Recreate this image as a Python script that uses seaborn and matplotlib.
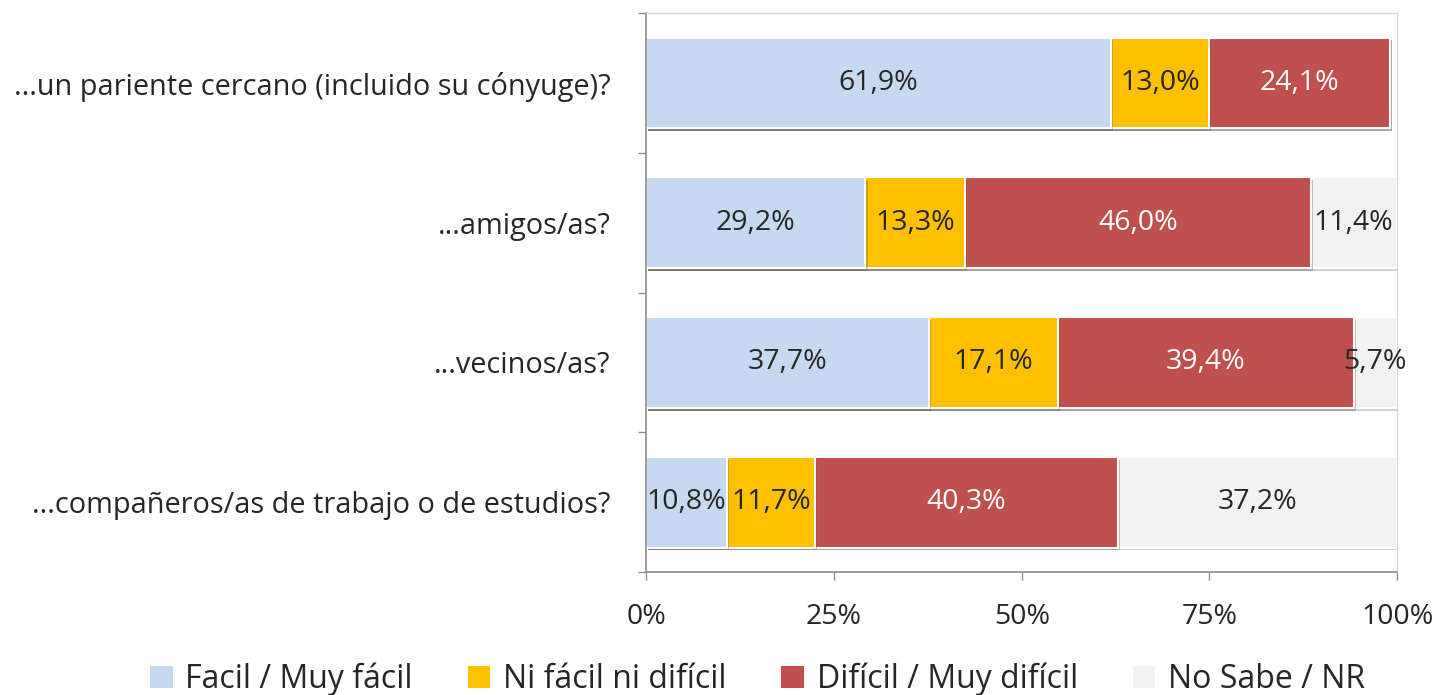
import numpy as np
import pandas as pd
import matplotlib.pyplot as plt
import matplotlib.patheffects as pe
import seaborn as sns
from matplotlib.patches import Patch

# Data
categories = [
    '...un pariente cercano (incluido su cónyuge)?',
    '...amigos/as?',
    '...vecinos/as?',
    '...compañeros/as de trabajo o de estudios?',
]
series_names = ['Facil / Muy fácil', 'Ni fácil ni difícil', 'Difícil / Muy difícil', 'No Sabe / NR']
facil = [61.9, 29.2, 37.7, 10.8]
ni_facil = [13.0, 13.3, 17.1, 11.7]
dificil = [24.1, 46.0, 39.4, 40.3]
no_sabe = [0.0, 11.4, 5.7, 37.2]
x_ticks = [0, 25, 50, 75, 100]

colors = ['#C6D9F1', '#FFC000', '#C0504D', '#F2F2F2']
text_colors = ['#262626', '#262626', '#FFFFFF', '#262626']

FONT = 'Open Sans'


def main():
    sns.set_style('white')
    plt.rcParams['font.family'] = [FONT, 'DejaVu Sans']

    values = np.array([facil, ni_facil, dificil, no_sabe])
    cum = values.cumsum(axis=0)

    fig = plt.figure(figsize=(14.39, 6.95), dpi=100)
    ax = fig.add_axes([0.449, 0.177, 0.522, 0.804])

    # draw cumulative totals from the back so each series sits on top of the next
    for i in range(len(series_names) - 1, -1, -1):
        df = pd.DataFrame({'cat': categories, 'val': cum[i]})
        sns.barplot(data=df, x='val', y='cat', orient='h', color=colors[i],
                    width=0.65, edgecolor='white', linewidth=1.5, ax=ax,
                    saturation=1)

    # faint drop shadow like the original
    for p in ax.patches:
        p.set_path_effects([pe.SimplePatchShadow(offset=(1.5, -2), alpha=0.25), pe.Normal()])

    # segment labels
    for i in range(len(series_names)):
        for j, cat in enumerate(categories):
            v = values[i, j]
            if v <= 0:
                continue
            center = cum[i, j] - v / 2
            ax.text(center, j, f'{v:.1f}%'.replace('.', ','), ha='center', va='center',
                    color=text_colors[i], fontsize=20.5)

    ax.set_xlim(0, 100)
    ax.set_ylim(len(categories) - 0.5, -0.5)
    ax.set_xticks(x_ticks)
    ax.set_xticklabels([f'{t}%' for t in x_ticks], fontsize=20.5, color='#262626')
    ax.tick_params(axis='x', which='major', bottom=True, length=6, width=1, color='#8C8C8C', pad=16)
    ax.set_yticks(range(len(categories)))
    ax.set_yticklabels(categories, fontsize=20.8, color='#262626')
    ax.set_yticks(np.arange(-0.5, len(categories), 1), minor=True)
    ax.tick_params(axis='y', which='major', left=False, pad=22)
    ax.tick_params(axis='y', which='minor', left=True, length=6, width=1, color='#8C8C8C')
    ax.set_xlabel('')
    ax.set_ylabel('')

    for side in ['left', 'bottom']:
        ax.spines[side].set_color('#8C8C8C')
        ax.spines[side].set_linewidth(1.2)
    for side in ['top', 'right']:
        ax.spines[side].set_color('#D9D9D9')
        ax.spines[side].set_linewidth(1)

    handles = [Patch(facecolor=c, edgecolor='none') for c in colors]
    fig.legend(handles, series_names, loc='center', bbox_to_anchor=(0.5265, 0.022),
               ncol=4, frameon=False, fontsize=23, handlelength=0.7, handleheight=0.7,
               handletextpad=0.4, columnspacing=1.72, labelcolor='#262626',
               borderpad=0, borderaxespad=0)

    fig.savefig('out.png', dpi=100)


if __name__ == '__main__':
    main()
